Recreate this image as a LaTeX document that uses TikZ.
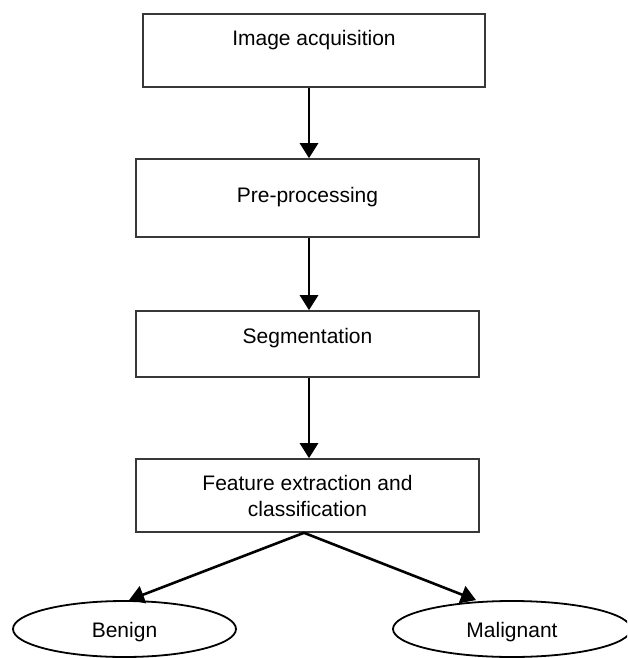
\documentclass[tikz,border=0pt]{standalone}
\usepackage{fontspec}
\setmainfont{Liberation Sans}
\usetikzlibrary{arrows.meta,shapes.geometric}
\begin{document}
\begin{tikzpicture}[x=1pt,y=-1pt,
  font=\fontsize{21}{26}\selectfont,
  stepbox/.style={draw=black!78, line width=1.6pt, fill=white, rectangle, inner sep=0pt},
  leaf/.style={draw=black, line width=1.8pt, ellipse, inner sep=0pt, minimum height=56pt},
  flow/.style={line width=2.6pt, -{Triangle[length=15pt,width=18pt]}},
]
\useasboundingbox (0,0) rectangle (627,658);
\clip (0,0) rectangle (627,658);
\node[stepbox, minimum width=342pt, minimum height=73pt,
  label={[yshift=10.5pt]center:Image acquisition}] (b1) at (314,50.5) {};
\node[stepbox, minimum width=343pt, minimum height=78pt,
  label={[yshift=1pt]center:Pre-processing}] (b2) at (307.5,198) {};
\node[stepbox, minimum width=343pt, minimum height=66pt,
  label={[yshift=6pt]center:Segmentation}] (b3) at (307.5,344) {};
\node[stepbox, minimum width=343pt, minimum height=73pt,
  label={[align=center]center:Feature extraction and\\classification}] (b4) at (307.5,495.5) {};
\node[leaf, minimum width=223pt, label={[yshift=-3pt]center:Benign}] (ben) at (124.5,629) {};
\node[leaf, minimum width=238pt, label={[yshift=-3pt]center:Malignant}] (mal) at (512,629) {};
\coordinate (apex) at ([xshift=-3.5pt]b4.south);
\draw[flow] ([xshift=1.5pt]b2.north |- b1.south) -- ([xshift=1.5pt]b2.north);
\draw[flow] ([xshift=1.5pt]b2.south) -- ([xshift=1.5pt]b3.north);
\draw[flow] ([xshift=1.5pt]b3.south) -- ([xshift=1.5pt]b4.north);
\draw[flow] (apex) -- ([xshift=4.5pt]ben.north);
\draw[flow] (apex) -- ([xshift=-36pt]mal.north);
\end{tikzpicture}
\end{document}
